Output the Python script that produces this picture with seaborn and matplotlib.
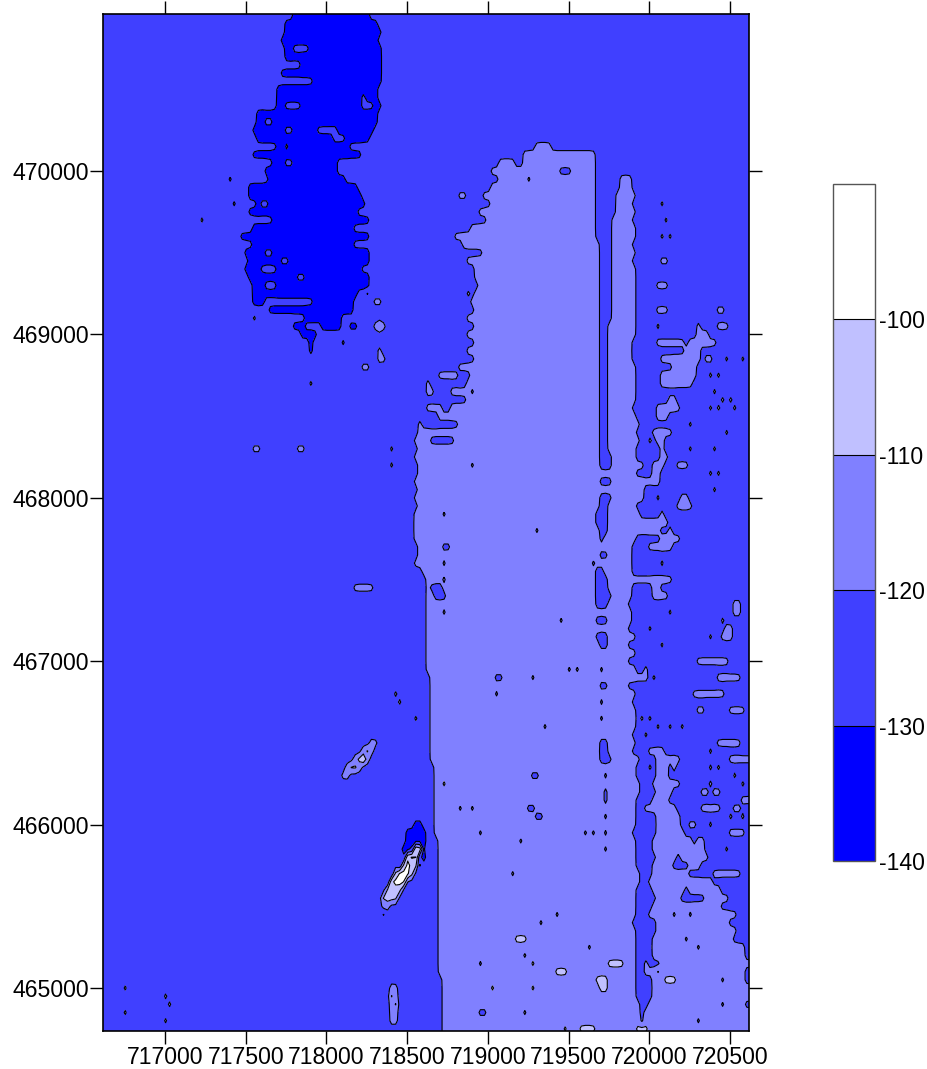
import numpy as np
import matplotlib
matplotlib.use("Agg")
import matplotlib.pyplot as plt
import seaborn as sns

X_START = 716616
Y_START = 470950
N_COLS = 161
N_ROWS = 126
LEVEL = {"a": -135, "b": -125, "c": -115, "d": -105, "e": -95}

levels = [-140, -130, -120, -110, -100, -90]
cbar_ticks = [-140, -130, -120, -110, -100]
x_ticks = [717000, 717500, 718000, 718500, 719000, 719500, 720000, 720500]
y_ticks = [465000, 466000, 467000, 468000, 469000, 470000]

# deep patch in the north west, rows 0..34
deep_left = [47, 45, 45, 44, 45, 45, 49, 44, 52, 43, 43, 43, 38, 38, 37, 38, 43, 37, 42, 40, 41, 36, 36, 38, 36,
             42, 37, 34, 37, 35, 36, 35, 36, 37, 37]
deep_right = [66, 68, 69, 68, 69, 69, 69, 69, 69, 68, 68, 69, 68, 68, 67, 66, 61, 64, 58, 58, 60, 63, 64, 65, 63,
              66, 62, 66, 62, 66, 66, 64, 66, 66, 63]

# main band, rows 18..125
band_left = [98, 96, 98, 96, 94, 96, 93, 95, 91, 87, 89, 94, 90, 92, 92, 93, 90, 91, 92, 90, 92, 90, 92, 90, 92, 88,
             83, 90, 86, 90, 80, 83, 78, 78, 77, 78, 77, 78, 78, 77, 78, 77, 78, 77, 77, 77, 77, 78, 78, 77, 79, 80,
             80, 80, 80, 80, 80, 80, 80, 80, 80, 80, 80, 81, 81, 81, 81, 81, 81, 81, 81, 81, 81, 81, 82, 82, 82, 82,
             82, 82, 82, 82, 82, 83, 83, 83, 83, 83, 83, 83, 83, 83, 83, 83, 83, 83, 83, 83, 83, 83, 84, 84, 84, 84,
             84, 84, 84, 84]
band_right = [122, 122, 122, 122, 132, 131, 132, 131, 132, 132, 131, 132, 131, 132, 132, 132, 132, 132, 132, 132,
              132, 132, 131, 131, 131, 132, 132, 132, 132, 132, 131, 132, 133, 132, 133, 132, 132, 134, 132, 138,
              136, 138, 132, 133, 140, 138, 132, 131, 131, 131, 131, 141, 131, 131, 130, 131, 131, 130, 132, 130,
              132, 130, 132, 135, 130, 132, 131, 132, 132, 132, 131, 132, 131, 133, 132, 132, 143, 141, 140, 142,
              143, 143, 144, 145, 143, 142, 141, 145, 151, 153, 155, 161, 161, 161, 161, 161, 161, 161, 161, 161,
              161, 161, 161, 161, 161, 161, 161, 161]

# narrow stripe inside the band, rows 22..53
stripe_left = [122, 122, 122, 122, 122, 122, 123, 123, 123, 123, 123, 123, 123, 123, 123, 123, 123, 123, 123, 123,
               123, 123, 123, 123, 123, 123, 123, 123, 123, 123, 123, 123]
stripe_right = [127, 127, 127, 126, 126, 126, 126, 126, 126, 126, 126, 126, 126, 126, 126, 126, 125, 125, 125, 125,
                125, 125, 125, 125, 125, 125, 125, 125, 125, 125, 125, 125]

# (row, first col, end col)
low_runs = [
    (18, 102, 104), (19, 113, 116), (20, 105, 106), (34, 91, 92), (44, 88, 91), (46, 91, 92), (48, 84, 86),
    (50, 79, 88), (52, 81, 87), (55, 91, 92),
    (54, 123, 126), (55, 123, 126), (57, 123, 126), (59, 123, 126), (60, 123, 125), (61, 122, 125),
    (62, 122, 125), (63, 123, 125), (64, 123, 124), (66, 123, 125), (68, 122, 124), (69, 122, 125),
    (70, 122, 125), (71, 122, 126), (72, 122, 125), (74, 122, 125), (76, 122, 125),
    (77, 123, 125), (80, 123, 124), (82, 123, 125), (84, 123, 124),
    (86, 123, 124), (89, 123, 125), (90, 123, 125), (91, 123, 126), (93, 124, 125),
    (95, 124, 125), (96, 124, 125), (98, 124, 125), (100, 124, 125), (102, 124, 125),
    (61, 84, 85), (63, 107, 108), (65, 84, 86), (67, 84, 85), (67, 121, 122),
    (69, 84, 85), (70, 81, 84), (71, 82, 85), (73, 84, 85), (74, 113, 114), (80, 115, 116), (80, 117, 118),
    (81, 97, 99), (81, 106, 107), (83, 97, 98), (87, 109, 110), (93, 106, 108), (97, 88, 89), (97, 91, 92),
    (97, 105, 107), (98, 107, 109), (100, 93, 94), (100, 119, 120), (100, 121, 122), (101, 103, 104), (105, 101, 102),
    (110, 112, 113), (111, 108, 109), (114, 120, 121), (115, 104, 105), (116, 93, 94), (122, 93, 95), (122, 104, 105),
    (58, 134, 136), (59, 134, 137), (70, 133, 134),
    (94, 133, 136), (95, 133, 137), (96, 132, 136), (97, 132, 134), (98, 132, 137), (99, 132, 137), (100, 131, 137),
    (101, 132, 136), (102, 132, 136), (103, 132, 137), (104, 132, 136), (105, 133, 136), (106, 133, 135),
    (107, 132, 136), (108, 132, 137), (108, 143, 149), (109, 132, 136), (109, 153, 161), (110, 132, 135),
    (110, 157, 161), (111, 131, 137), (111, 155, 160), (112, 132, 137), (112, 157, 161), (113, 132, 136),
    (113, 156, 161), (114, 132, 136), (114, 159, 161), (115, 132, 136), (115, 159, 161), (116, 132, 134),
    (116, 135, 138), (117, 132, 134), (117, 159, 161), (118, 132, 136), (118, 159, 161), (119, 132, 136),
    (120, 132, 136), (121, 133, 135), (121, 159, 161), (122, 133, 134), (123, 133, 134),
    (107, 144, 145), (110, 141, 142), (110, 145, 146), (113, 144, 145), (114, 147, 148),
    (118, 153, 154), (121, 153, 154), (123, 147, 148),
    (4, 47, 51), (10, 64, 65), (11, 45, 49), (11, 64, 67), (13, 40, 42), (14, 45, 47),
    (14, 53, 58), (15, 57, 60), (16, 45, 46), (18, 45, 47), (23, 39, 41), (29, 40, 42),
    (30, 44, 46), (31, 39, 43), (32, 48, 50), (33, 40, 43),
]

mid_runs = [
    (16, 107, 111), (17, 104, 122), (22, 88, 90), (20, 128, 131), (21, 128, 131), (38, 67, 70), (34, 65, 66), (35, 67, 69),
    (41, 68, 69), (42, 68, 70), (43, 64, 66), (45, 80, 81), (46, 80, 82), (93, 137, 140),
    (23, 138, 139), (25, 139, 140), (27, 138, 139), (27, 140, 141), (30, 138, 140), (33, 137, 140),
    (36, 137, 140), (36, 152, 154), (38, 137, 138), (38, 147, 148),
    (38, 152, 155), (39, 147, 150), (40, 137, 144), (40, 145, 152), (42, 138, 148), (41, 144, 148),
    (42, 149, 151), (42, 154, 155), (42, 158, 159), (43, 141, 147), (44, 138, 147), (44, 150, 151), (44, 152, 153),
    (45, 138, 146), (47, 140, 142), (46, 151, 152), (47, 153, 154), (47, 155, 156),
    (48, 137, 143), (48, 150, 151), (48, 152, 153), (48, 156, 157), (49, 137, 140), (50, 145, 146),
    (51, 136, 141), (51, 154, 155), (52, 135, 136), (53, 138, 139), (52, 137, 139), (53, 145, 146), (53, 151, 152),
    (54, 138, 140), (55, 136, 139), (55, 142, 145), (56, 136, 138), (56, 150, 151), (56, 152, 153),
    (58, 151, 152), (59, 143, 145), (60, 142, 146), (61, 138, 139), (63, 140, 141), (63, 160, 161), (64, 138, 143),
    (65, 135, 141), (67, 138, 139), (67, 160, 161), (70, 136, 138), (71, 136, 140),
    (72, 156, 158), (73, 156, 158), (73, 140, 141), (74, 153, 154), (75, 135, 136), (75, 154, 156), (76, 153, 156),
    (76, 150, 151), (77, 138, 139), (79, 147, 155), (80, 134, 135), (81, 152, 158), (81, 136, 137),
    (81, 133, 134), (83, 146, 154), (85, 155, 159), (85, 147, 149), (86, 133, 134), (86, 135, 136), (87, 137, 138),
    (87, 140, 141), (87, 143, 144), (88, 134, 135), (89, 152, 158), (90, 135, 139), (90, 150, 151),
    (91, 155, 161), (91, 137, 143), (92, 137, 140), (92, 141, 142), (92, 135, 136), (92, 150, 151),
    (92, 152, 153), (93, 156, 157), (94, 150, 151), (94, 158, 159), (94, 160, 161), (95, 148, 150),
    (95, 151, 153), (96, 158, 161), (97, 148, 153), (97, 156, 158), (99, 145, 147), (99, 150, 151), (98, 155, 156),
    (98, 158, 159), (100, 155, 159), (101, 145, 146), (101, 147, 149), (102, 143, 149), (102, 154, 155),
    (103, 143, 150), (104, 145, 148), (105, 151, 158),
    (70, 62, 67), (83, 72, 73), (84, 73, 74), (86, 77, 78), (53, 37, 39), (53, 48, 50), (53, 71, 72),
    (55, 71, 72), (25, 24, 25), (37, 37, 38), (45, 51, 52), (119, 5, 6), (120, 15, 16), (121, 16, 17), (123, 15, 16),
    (122, 5, 6), (119, 71, 73), (120, 71, 73), (121, 71, 73), (122, 71, 73), (123, 71, 73),
    (89, 66, 68), (90, 64, 67), (91, 62, 66), (92, 60, 64), (93, 59, 61),
]

high_runs = [
    (38, 68, 69), (94, 84, 85), (113, 102, 105), (116, 106, 107), (116, 125, 129), (117, 112, 115),
    (118, 122, 125), (119, 123, 125), (119, 96, 97), (119, 106, 107), (117, 137, 138), (118, 139, 142), (124, 114, 115),
    (124, 118, 122), (124, 132, 135), (120, 71, 72), (121, 72, 73), (90, 65, 66), (91, 63, 65), (92, 61, 63),
]

# wreck near the south end of the survey, painted last
wreck_runs = [
    ("a", 99, 77, 79), ("a", 100, 75, 80), ("a", 101, 75, 80), ("a", 102, 74, 80), ("a", 103, 74, 80), ("a", 104, 73, 79),
    ("e", 102, 77, 79), ("e", 103, 75, 78), ("d", 104, 74, 78), ("e", 104, 75, 76), ("d", 105, 72, 77), ("e", 105, 73, 76),
    ("a", 105, 71, 72), ("e", 106, 71, 75), ("a", 106, 70, 71), ("d", 107, 70, 74), ("d", 108, 69, 73), ("c", 109, 69, 71),
    ("a", 110, 69, 70), ("e", 91, 64, 65),
]

deep_extra = [(35, 37, 40), (35, 52, 62), (36, 41, 62), (37, 50, 59), (38, 54, 59), (38, 47, 50), (38, 61, 63),
              (39, 49, 53), (40, 51, 52), (40, 59, 60), (41, 51, 52), (20, 31, 32), (23, 32, 33)]

# raster
grid = np.full((N_ROWS, N_COLS), LEVEL["b"], dtype=float)
for r, (c0, c1) in enumerate(zip(deep_left, deep_right)):
    grid[r, c0:c1] = LEVEL["a"]
for r, (c0, c1) in enumerate(zip(band_left, band_right)):
    grid[r + 18, c0:c1] = LEVEL["c"]
for r, (c0, c1) in enumerate(zip(stripe_left, stripe_right)):
    grid[r + 22, c0:c1] = LEVEL["b"]
for name, runs in (("b", low_runs), ("c", mid_runs), ("d", high_runs), ("a", deep_extra)):
    for r, c0, c1 in runs:
        grid[r, c0:c1] = LEVEL[name]
for name, r, c0, c1 in wreck_runs:
    grid[r, c0:c1] = LEVEL[name]

# small blur so the contours lose the raster steps
z = np.pad(grid, 2, mode="edge")
kernel = np.array([0.1, 0.8, 0.1])
z = np.apply_along_axis(lambda v: np.convolve(v, kernel, mode="same"), 0, z)
z = np.apply_along_axis(lambda v: np.convolve(v, kernel, mode="same"), 1, z)[1:-1, 1:-1]
x = X_START + 25 * (np.arange(-1, N_COLS + 1) + 0.5)
y = Y_START - 50 * np.arange(-1, N_ROWS + 1)

sns.set_theme(style="ticks")
plt.rcParams["font.family"] = ["Liberation Sans", "DejaVu Sans"]
plt.rcParams["axes.unicode_minus"] = False
colors = sns.blend_palette(["#0000ff", "#ffffff"], 5)

fig = plt.figure(figsize=(9.28, 10.69), dpi=100)
ax = fig.add_axes([103 / 928, 1 - 1031 / 1069, 646 / 928, 1017 / 1069])
cf = ax.contourf(x, y, z, levels=levels, colors=colors)
cs = ax.contour(x, y, z, levels=levels[1:-1], colors="black", linewidths=0.8, linestyles="solid")

ax.set_xlim(716616, 720617)
ax.set_ylim(464737, 470961)
ax.set_xticks(x_ticks)
ax.set_yticks(y_ticks)
ax.tick_params(axis="both", which="major", length=9.5, width=1.0, color="black", labelsize=16.6, labelcolor="black",
               top=True, right=True)
ax.tick_params(axis="x", pad=1.5)
ax.tick_params(axis="y", pad=0.5)
for spine in ax.spines.values():
    spine.set_linewidth(1.2)
    spine.set_color("black")

cax = fig.add_axes([833 / 928, 1 - 861 / 1069, 42 / 928, 677 / 1069])
cb = fig.colorbar(cf, cax=cax, ticks=cbar_ticks)
cb.add_lines(cs)
cb.ax.tick_params(length=0, labelsize=16.6, labelcolor="black", pad=3)
cb.outline.set_edgecolor("#555555")
cb.outline.set_linewidth(1.0)

fig.savefig("out.png", dpi=100)
